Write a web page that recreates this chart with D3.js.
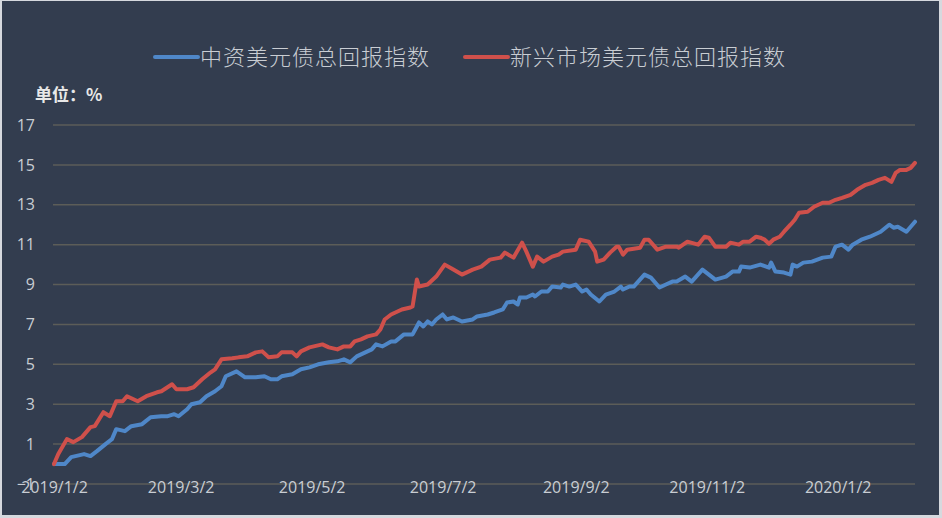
<!DOCTYPE html>
<html>
  <head>
    <meta charset="UTF-8" />
    <title></title>
    <script src="https://cdn.jsdelivr.net/npm/d3@7"></script>
    <style>
      html, body { margin: 0; padding: 0; background: #d6d9de; }
      svg { display: block; }
    </style>
  </head>
  <body>
    <svg></svg>
    <script>
      // 1. data
      const seriesNames = ['中资美元债总回报指数', '新兴市场美元债总回报指数'];
      const yTicks = [-1, 1, 3, 5, 7, 9, 11, 13, 15, 17];
      const xTickLabels = ['2019/1/2', '2019/3/2', '2019/5/2', '2019/7/2', '2019/9/2', '2019/11/2', '2020/1/2'];

      const blueDates = [
        '2019-01-02', '2019-01-04', '2019-01-07', '2019-01-10', '2019-01-16', '2019-01-19', '2019-01-22', '2019-01-26',
        '2019-01-29', '2019-01-31', '2019-02-04', '2019-02-07', '2019-02-12', '2019-02-16', '2019-02-21', '2019-02-24',
        '2019-02-27', '2019-03-01', '2019-03-05', '2019-03-07', '2019-03-11', '2019-03-14', '2019-03-18', '2019-03-21',
        '2019-03-23', '2019-03-28', '2019-04-01', '2019-04-06', '2019-04-10', '2019-04-13', '2019-04-16', '2019-04-18',
        '2019-04-23', '2019-04-27', '2019-05-01', '2019-05-05', '2019-05-10', '2019-05-14', '2019-05-17', '2019-05-20',
        '2019-05-23', '2019-05-27', '2019-05-30', '2019-06-01', '2019-06-04', '2019-06-08', '2019-06-10', '2019-06-14',
        '2019-06-18', '2019-06-21', '2019-06-23', '2019-06-25', '2019-06-27', '2019-06-29', '2019-07-02', '2019-07-04',
        '2019-07-07', '2019-07-11', '2019-07-16', '2019-07-18', '2019-07-23', '2019-07-26', '2019-07-30', '2019-08-01',
        '2019-08-04', '2019-08-06', '2019-08-07', '2019-08-10', '2019-08-13', '2019-08-14', '2019-08-17', '2019-08-20',
        '2019-08-22', '2019-08-26', '2019-08-27', '2019-08-30', '2019-09-02', '2019-09-05', '2019-09-07', '2019-09-09',
        '2019-09-13', '2019-09-16', '2019-09-20', '2019-09-23', '2019-09-24', '2019-09-27', '2019-09-29', '2019-10-04',
        '2019-10-07', '2019-10-11', '2019-10-14', '2019-10-17', '2019-10-19', '2019-10-23', '2019-10-26', '2019-10-31',
        '2019-11-03', '2019-11-06', '2019-11-11', '2019-11-14', '2019-11-17', '2019-11-18', '2019-11-22', '2019-11-27',
        '2019-12-01', '2019-12-02', '2019-12-04', '2019-12-08', '2019-12-11', '2019-12-12', '2019-12-14', '2019-12-17',
        '2019-12-21', '2019-12-26', '2019-12-30', '2020-01-01', '2020-01-04', '2020-01-07', '2020-01-09', '2020-01-13',
        '2020-01-17', '2020-01-22', '2020-01-26', '2020-01-28', '2020-01-30', '2020-02-03', '2020-02-05', '2020-02-07'
      ];
      const blueValues = [
        0, 0, 0, 0.35, 0.5, 0.4, 0.65, 1.0,
        1.25, 1.75, 1.65, 1.9, 2.0, 2.35, 2.4, 2.4,
        2.5, 2.4, 2.75, 3.0, 3.1, 3.4, 3.65, 3.9,
        4.4, 4.65, 4.35, 4.35, 4.4, 4.25, 4.25, 4.4,
        4.5, 4.75, 4.85, 5.0, 5.1, 5.15, 5.25, 5.1,
        5.4, 5.6, 5.75, 6.0, 5.9, 6.15, 6.15, 6.5,
        6.5, 7.1, 6.9, 7.15, 7.0, 7.25, 7.5, 7.25,
        7.35, 7.15, 7.25, 7.4, 7.5, 7.6, 7.75, 8.1,
        8.15, 8.0, 8.35, 8.35, 8.5, 8.4, 8.65, 8.65,
        8.9, 8.85, 9.0, 8.9, 9.0, 8.65, 8.75, 8.5,
        8.15, 8.5, 8.65, 8.9, 8.75, 8.9, 8.9, 9.5,
        9.35, 8.85, 9.0, 9.15, 9.15, 9.4, 9.15, 9.75,
        9.5, 9.25, 9.4, 9.65, 9.65, 9.9, 9.85, 10.0,
        9.85, 10.1, 9.65, 9.6, 9.5, 10.0, 9.9, 10.1,
        10.15, 10.35, 10.4, 10.9, 11.0, 10.75, 11.0, 11.25,
        11.4, 11.65, 12.0, 11.85, 11.9, 11.65, 11.9, 12.15
      ];

      const redDates = [
        '2019-01-02', '2019-01-04', '2019-01-08', '2019-01-11', '2019-01-15', '2019-01-19', '2019-01-21', '2019-01-25',
        '2019-01-28', '2019-01-31', '2019-02-03', '2019-02-05', '2019-02-10', '2019-02-14', '2019-02-19', '2019-02-21',
        '2019-02-26', '2019-02-28', '2019-03-05', '2019-03-08', '2019-03-12', '2019-03-16', '2019-03-18', '2019-03-21',
        '2019-03-26', '2019-03-29', '2019-04-02', '2019-04-06', '2019-04-09', '2019-04-12', '2019-04-16', '2019-04-18',
        '2019-04-23', '2019-04-25', '2019-04-27', '2019-05-01', '2019-05-03', '2019-05-07', '2019-05-10', '2019-05-14',
        '2019-05-17', '2019-05-20', '2019-05-22', '2019-05-25', '2019-05-28', '2019-06-01', '2019-06-03', '2019-06-05',
        '2019-06-08', '2019-06-13', '2019-06-17', '2019-06-18', '2019-06-20', '2019-06-21', '2019-06-25', '2019-06-29',
        '2019-07-03', '2019-07-07', '2019-07-11', '2019-07-16', '2019-07-20', '2019-07-24', '2019-07-29', '2019-07-31',
        '2019-08-04', '2019-08-08', '2019-08-10', '2019-08-13', '2019-08-15', '2019-08-18', '2019-08-22', '2019-08-25',
        '2019-08-27', '2019-09-02', '2019-09-04', '2019-09-08', '2019-09-11', '2019-09-12', '2019-09-15', '2019-09-18',
        '2019-09-21', '2019-09-22', '2019-09-24', '2019-09-26', '2019-10-02', '2019-10-04', '2019-10-06', '2019-10-10',
        '2019-10-14', '2019-10-19', '2019-10-20', '2019-10-24', '2019-10-29', '2019-11-01', '2019-11-03', '2019-11-06',
        '2019-11-11', '2019-11-13', '2019-11-17', '2019-11-19', '2019-11-22', '2019-11-25', '2019-11-27', '2019-11-29',
        '2019-12-01', '2019-12-03', '2019-12-06', '2019-12-08', '2019-12-11', '2019-12-13', '2019-12-15', '2019-12-19',
        '2019-12-22', '2019-12-26', '2019-12-29', '2020-01-01', '2020-01-04', '2020-01-08', '2020-01-11', '2020-01-15',
        '2020-01-18', '2020-01-21', '2020-01-24', '2020-01-27', '2020-01-29', '2020-01-31', '2020-02-03', '2020-02-05',
        '2020-02-07'
      ];
      const redValues = [
        0, 0.5, 1.25, 1.1, 1.35, 1.85, 1.9, 2.6,
        2.4, 3.15, 3.15, 3.4, 3.15, 3.4, 3.6, 3.65,
        4.0, 3.75, 3.75, 3.85, 4.25, 4.6, 4.75, 5.25,
        5.3, 5.35, 5.4, 5.6, 5.65, 5.35, 5.4, 5.6,
        5.6, 5.4, 5.65, 5.85, 5.9, 6.0, 5.85, 5.75,
        5.9, 5.9, 6.15, 6.25, 6.4, 6.5, 6.75, 7.25,
        7.5, 7.75, 7.85, 7.9, 9.25, 8.9, 9.0, 9.4,
        10.0, 9.75, 9.5, 9.75, 9.9, 10.25, 10.35, 10.6,
        10.35, 11.1, 10.65, 9.9, 10.4, 10.15, 10.4, 10.5,
        10.65, 10.75, 11.25, 11.15, 10.65, 10.15, 10.25, 10.6,
        10.9, 10.9, 10.5, 10.75, 10.85, 11.25, 11.25, 10.75,
        10.9, 10.9, 10.85, 11.15, 11.0, 11.4, 11.35, 10.9,
        10.9, 11.1, 11.0, 11.15, 11.15, 11.4, 11.35, 11.25,
        11.05, 11.25, 11.4, 11.65, 12.0, 12.25, 12.6, 12.65,
        12.9, 13.1, 13.1, 13.25, 13.35, 13.5, 13.75, 14.0,
        14.1, 14.25, 14.35, 14.15, 14.6, 14.75, 14.75, 14.85,
        15.1
      ];

      // 2. basic setup
      const width = 942;
      const height = 518;
      const colors = ['#4f87c8', '#cf504b'];
      const textColor = '#c9cdd3';
      const tickFont = '"Open Sans", sans-serif';
      const parse = d3.timeParse('%Y-%m-%d');
      const parseLabel = d3.timeParse('%Y/%m/%d');

      const svg = d3
        .select('svg')
        .attr('width', width)
        .attr('height', height);

      svg.append('rect')
        .attr('x', 2)
        .attr('y', 1)
        .attr('width', width - 5)
        .attr('height', height - 4)
        .attr('fill', '#333d4f');

      const x = d3
        .scaleTime()
        .domain([parse('2019-01-02'), parse('2020-02-07')])
        .range([54, 915]);
      const y = d3.scaleLinear().domain([-1, 17]).range([484, 125]);

      // 3. grid
      svg.append('g')
        .selectAll('line')
        .data(yTicks)
        .join('line')
        .attr('x1', 53)
        .attr('x2', 915)
        .attr('y1', (d) => y(d))
        .attr('y2', (d) => y(d))
        .attr('stroke', '#5c5d58')
        .attr('stroke-width', 1.5);

      // 4. axes
      const yAxis = svg
        .append('g')
        .attr('transform', 'translate(53,0)')
        .call(d3.axisLeft(y).tickValues(yTicks).tickSize(0).tickPadding(18).tickFormat(d3.format('d')))
        .attr('font-family', tickFont)
        .attr('font-size', 16);
      yAxis.select('.domain').remove();
      yAxis.selectAll('text').attr('fill', textColor);

      const xAxis = svg
        .append('g')
        .attr('transform', 'translate(0,482)')
        .call(
          d3.axisBottom(x)
            .tickValues(xTickLabels.map((s) => parseLabel(s)))
            .tickSize(0)
            .tickPadding(0)
            .tickFormat((d, i) => xTickLabels[i])
        )
        .attr('font-family', tickFont)
        .attr('font-size', 16);
      xAxis.select('.domain').remove();
      xAxis.selectAll('text').attr('fill', textColor);

      // 5. lines
      const line = d3
        .line()
        .x((d) => x(d[0]))
        .y((d) => y(d[1]));

      const series = [
        blueDates.map((d, i) => [parse(d), blueValues[i]]),
        redDates.map((d, i) => [parse(d), redValues[i]])
      ];

      svg.append('g')
        .selectAll('path')
        .data(series)
        .join('path')
        .attr('d', line)
        .attr('fill', 'none')
        .attr('stroke', (d, i) => colors[i])
        .attr('stroke-width', 4)
        .attr('stroke-linejoin', 'round')
        .attr('stroke-linecap', 'round');

      // 6. unit label
      svg.append('text')
        .attr('x', 35)
        .attr('y', 101)
        .attr('fill', '#e8e8e8')
        .style('font-family', '"Noto Sans CJK SC", sans-serif')
        .style('font-size', '17px')
        .style('font-weight', 'bold')
        .text('单位：%');

      // 7. legend
      const legendX = [155, 465];
      const legend = svg
        .append('g')
        .selectAll('g')
        .data(seriesNames)
        .join('g')
        .attr('transform', (d, i) => `translate(${legendX[i]},57)`);
      legend.append('line')
        .attr('x1', 0)
        .attr('x2', 43)
        .attr('stroke', (d, i) => colors[i])
        .attr('stroke-width', 4)
        .attr('stroke-linecap', 'round');
      legend.append('text')
        .attr('x', 45)
        .attr('dy', '0.36em')
        .attr('fill', textColor)
        .style('font-family', '"Noto Sans CJK SC", sans-serif')
        .style('font-size', '22px')
        .style('font-weight', 300)
        .style('letter-spacing', '1px')
        .text((d) => d);
    </script>
  </body>
</html>
